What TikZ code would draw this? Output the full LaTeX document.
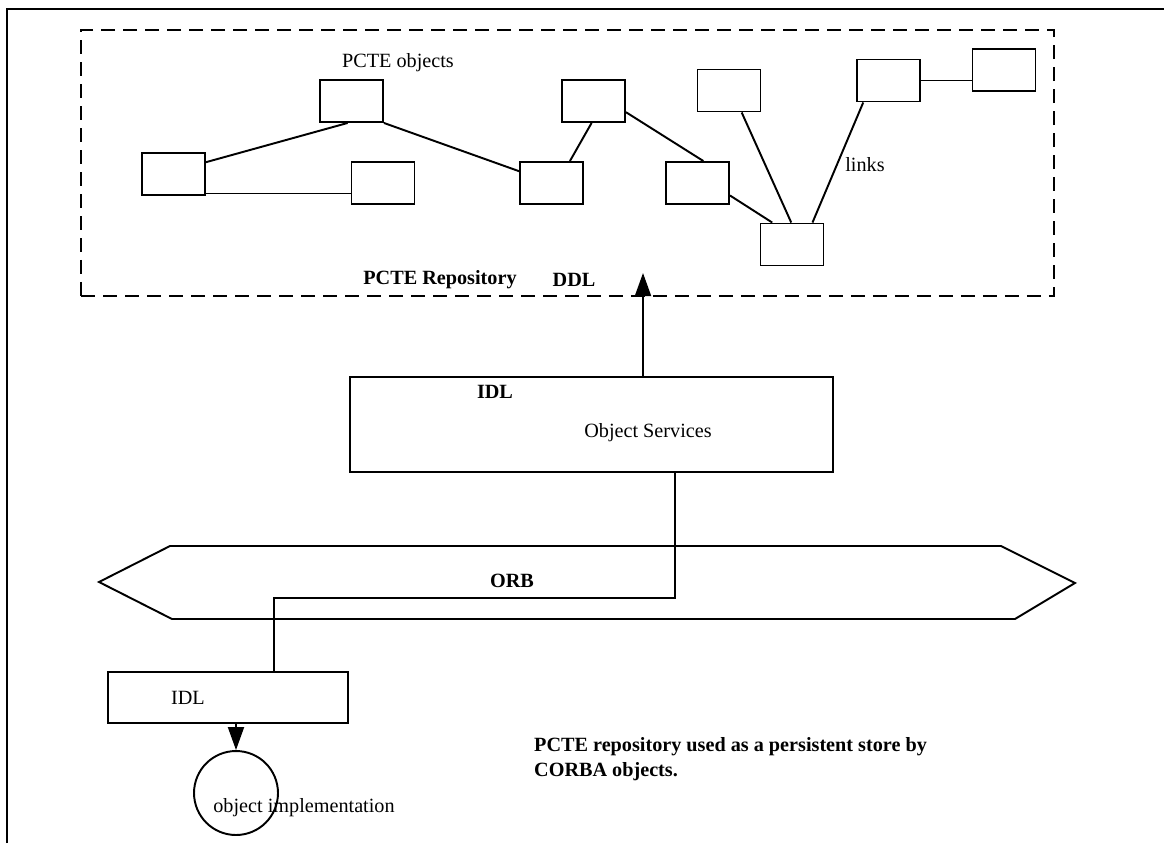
\documentclass[tikz,border=0pt]{standalone}
\usepackage{fontspec}
\setmainfont{Liberation Serif}
\usetikzlibrary{arrows.meta}

\begin{document}
\begin{tikzpicture}[x=0.02cm,y=-0.02cm,
      obj/.style={draw, line width=1.1pt, minimum width=1.26cm,
                  minimum height=0.84cm, inner sep=0pt},
      lnk/.style={line width=1.1pt},
      arr/.style={line width=1.1pt, -{Triangle[length=4.6mm,width=3.2mm]}},
      lbl/.style={font=\fontsize{11.5}{14.2}\selectfont},
      blbl/.style={font=\fontsize{11.5}{14.2}\selectfont\bfseries},
      every node/.style={align=center}]
    \useasboundingbox (0,0) rectangle (1164,843);
    \draw[line width=1.6pt] (7,843) -- (7,9) -- (1164,9);
    \node[draw, dash pattern=on 0.28cm off 0.16cm, line width=0.8pt,
          minimum width=19.46cm, minimum height=5.32cm] (repo) at (567.5,163) {};
    \node[lbl] (objs) at (398,63) {PCTE objects};
    \node[obj] (a) at (351.5,101) {};
    \node[obj] (b) at (173.5,174) {};
    \node[obj] (c) at (383,183)   {};
    \node[obj] (d) at (551.5,183) {};
    \node[obj] (e) at (593.5,101) {};
    \node[obj] (f) at (697.5,183) {};
    \node[obj] (g) at (729,90.5)  {};
    \node[obj] (h) at (792,244.5) {};
    \node[obj] (i) at (888.5,80.5){};
    \node[obj] (j) at (1004,70)   {};
    \draw[lnk] (b.20) -- (a.-100);
    \draw[lnk] (b.-31) -- (b.-31 -| c.west);
    \draw[lnk] (a.south east) -- (d.160);
    \draw[lnk] (d.50) -- (e.-95);
    \draw[lnk] (e.-19) -- (f.75);
    \draw[lnk] (f.-21) -- (h.132);
    \draw[lnk] (g.-60) -- (h.92);
    \draw[lnk] (i.-139) -- (h.47);
    \draw[lnk] (i.east) -- (i.east -| j.west);
    \node[lbl] (links) at (865,165) {links};
    \node[blbl] (rname) at (440,280) {PCTE Repository};
    \node[blbl] (ddl) at (574,280) {DDL};
    \node[draw, line width=1.1pt, minimum width=9.66cm, minimum height=1.9cm] (os) at (591.5,424.5) {};
    \node[blbl] (osidl) at (495,392) {IDL};
    \node[lbl] (osname) at (648,433) {Object Services};
    \coordinate (up) at (643,273);
    \draw[arr] (up |- os.north) -- (up);
    \draw[line width=1.1pt] (99,582) -- (170,546) -- (1001,546) -- (1075,583)
                            -- (1015,619) -- (172,619) -- cycle;
    \node[blbl] (orb) at (512,581) {ORB};
    \node[draw, line width=1.1pt, minimum width=4.8cm, minimum height=1.02cm] (idl) at (228,697.5) {};
    \node[lbl] (idlname) at (188,698) {IDL};
    \coordinate (bend) at (675,598);
    \coordinate (drop) at (274,598);
    \draw[lnk] (bend |- os.south) -- (bend) -- (drop) -- (drop |- idl.north);
    \node[circle, draw, line width=1.1pt, minimum size=1.68cm, inner sep=0pt] (impl) at (236,793) {};
    \draw[arr] (impl.north |- idl.south) -- (impl.north);
    \node[lbl] (implname) at (304,808) {object implementation};
    \node[blbl, anchor=west, align=left] (note) at (528,759)
      {PCTE repository used as a persistent store by\\CORBA objects.};
  \end{tikzpicture}
\end{document}
